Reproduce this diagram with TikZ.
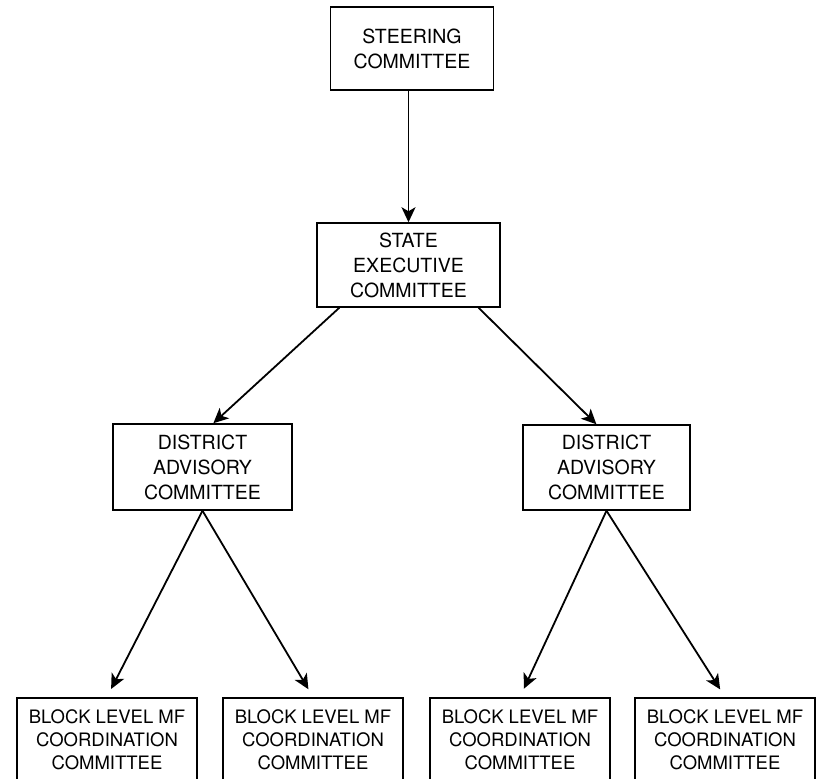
\documentclass[tikz,border=0pt]{standalone}
\usepackage{fontspec}
\setmainfont{TeX Gyre Heros}
\usetikzlibrary{arrows.meta, calc}
\tikzset{
    x=1pt, y=-1pt,
    committee/.style={draw, line width=1.5pt, align=center, inner xsep=4pt,
        font=\fontsize{19.5}{25}\selectfont},
    blockbox/.style={committee, anchor=north, minimum width=180pt,
        inner ysep=12pt, text depth=6pt, font=\fontsize{18.5}{23}\selectfont},
    link/.style={line width=1.8pt, -{Stealth[length=15pt, width=14pt, inset=4pt]}},
}

\begin{document}
\begin{tikzpicture}
        \clip (0, 0) rectangle (822, 779);
        \useasboundingbox (0, 0) rectangle (822, 779);

        \node[committee, minimum width=163pt, minimum height=83pt] (steer)
            at (412, 48.5) {STEERING\\COMMITTEE};
        \node[committee, minimum width=183pt, minimum height=84pt] (state)
            at (408.5, 265) {STATE\\EXECUTIVE\\COMMITTEE};
        \node[committee, minimum width=179pt, minimum height=86pt] (distL)
            at (202.5, 467) {DISTRICT\\ADVISORY\\COMMITTEE};
        \node[committee, minimum width=167pt, minimum height=85pt] (distR)
            at (606.5, 467.5) {DISTRICT\\ADVISORY\\COMMITTEE};

        % block level, cut off by the page edge
        \node[blockbox] (blockA) at (107, 697) {BLOCK LEVEL MF\\COORDINATION\\COMMITTEE};
        \node[blockbox] (blockB) at (313, 697) {BLOCK LEVEL MF\\COORDINATION\\COMMITTEE};
        \node[blockbox] (blockC) at (520, 697) {BLOCK LEVEL MF\\COORDINATION\\COMMITTEE};
        \node[blockbox] (blockD) at (725, 697) {BLOCK LEVEL MF\\COORDINATION\\COMMITTEE};

        \coordinate (stateL) at ($(state.south west)!0.125!(state.south east)$);
        \coordinate (stateR) at ($(state.south west)!0.88!(state.south east)$);
        \coordinate (distLtop) at ($(distL.north west)!0.56!(distL.north east)$);
        \coordinate (distRtop) at ($(distR.north west)!0.44!(distR.north east)$);

        \draw[link] (steer.south -| state.north) -- (state.north);
        \draw[link] (stateL) -- (distLtop);
        \draw[link] (stateR) -- (distRtop);

        \begin{scope}[every path/.style={link, shorten >=9pt}]
            \draw (distL.south) -- (blockA.north);
            \draw (distL.south) -- (blockB.north);
            \draw (distR.south) -- (blockC.north);
            \draw (distR.south) -- (blockD.north);
        \end{scope}
    \end{tikzpicture}
\end{document}
